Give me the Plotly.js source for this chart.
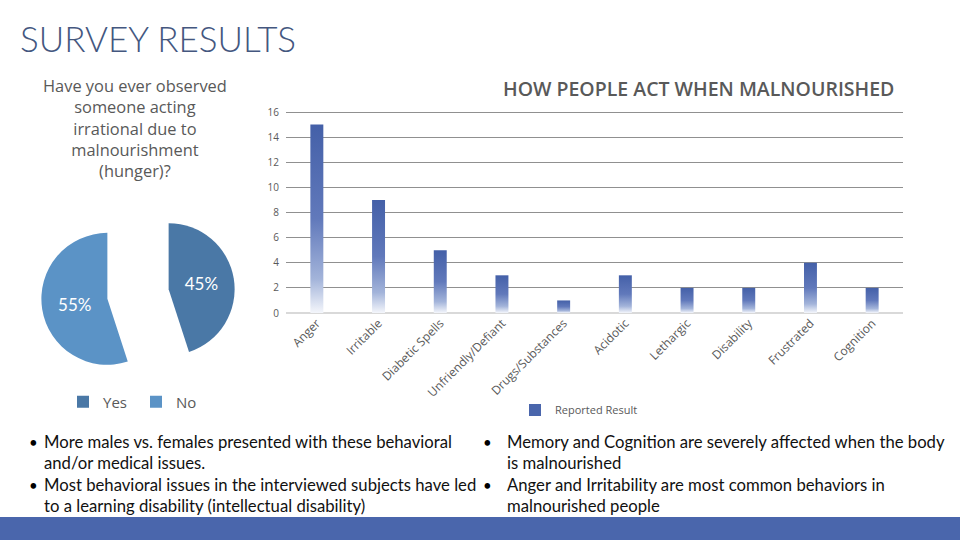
<!DOCTYPE html>
<html><head><meta charset="utf-8">
<script src="https://cdn.plot.ly/plotly-3.0.1.min.js"></script>
<style>html,body{margin:0;padding:0;background:#fff}#chart{width:960px;height:540px}</style>
</head><body><div id="chart"></div>
<script>
const slideTitle = 'SURVEY RESULTS';
const pieTitle = ['Have you ever observed','someone acting','irrational due to','malnourishment','(hunger)?'];
const pieLabels = ['Yes','No'];
const pieValues = [45,55];
const barTitle = 'HOW PEOPLE ACT WHEN MALNOURISHED';
const barCategories = ['Anger','Irritable','Diabetic Spells','Unfriendly/Defiant','Drugs/Substances','Acidotic','Lethargic','Disability','Frustrated','Cognition'];
const barValues = [15,9,5,3,1,3,2,2,4,2];
const barSeriesName = 'Reported Result';
const yTicks = [0,2,4,6,8,10,12,14,16];
const notesLeft = [['More males vs. females presented with these behavioral','and/or medical issues.'],['Most behavioral issues in the interviewed subjects have led','to a learning disability (intellectual disability)']];
const notesRight = [['Memory and Cognition are severely affected when the body','is malnourished'],['Anger and Irritability are most common behaviors in','malnourished people']];

const W = 960, H = 540;
const px = x => x / W, py = y => 1 - y / H;
const grey = '#595959';

const pieTrace = {
  type: 'pie', labels: pieLabels, values: pieValues, sort: false,
  direction: 'clockwise', rotation: 0, pull: [0.47, 0.47],
  marker: {colors: ['#4a78a6', '#5b93c6'], line: {width: 0}},
  texttemplate: '%{percent}', textposition: 'inside', insidetextorientation: 'horizontal',
  textfont: {family: 'Lato', size: 17, color: '#ffffff'},
  domain: {x: [px(41), px(235)], y: [py(391), py(197)]},
  hoverinfo: 'none', legend: 'legend'
};
const barTrace = {
  type: 'bar', x: barCategories, y: barValues, name: barSeriesName,
  marker: {color: '#4a66ac'}, width: 0.21, showlegend: true, legend: 'legend2',
  hoverinfo: 'none'
};

const annotations = [];
annotations.push({text: slideTitle, xref: 'paper', yref: 'paper', x: px(18), y: py(38), xanchor: 'left', yanchor: 'middle', showarrow: false,
  font: {family: 'Lato', size: 35, weight: 300, color: '#44577f'}});
annotations.push({text: pieTitle.join('<br>'), xref: 'paper', yref: 'paper', x: px(135), y: py(128), xanchor: 'center', yanchor: 'middle', showarrow: false,
  font: {family: 'Open Sans', size: 16.4, color: grey}, align: 'center'});
annotations.push({text: barTitle, xref: 'paper', yref: 'paper', x: px(698), y: py(88), xanchor: 'center', yanchor: 'middle', showarrow: false,
  font: {family: 'Open Sans', size: 19.5, weight: 600, color: grey}});

function addNotes(notes, bulletX, textX, startYs) {
  notes.forEach((lines, i) => {
    annotations.push({text: '•', xref: 'paper', yref: 'paper', x: px(bulletX), y: py(startYs[i]), xanchor: 'center', yanchor: 'middle', showarrow: false,
      font: {family: 'Lato', size: 15, color: '#000'}});
    lines.forEach((ln, j) => {
      annotations.push({text: ln, xref: 'paper', yref: 'paper', x: px(textX), y: py(startYs[i] + j * 21.3), xanchor: 'left', yanchor: 'middle', showarrow: false,
        font: {family: 'Lato', size: 16.7, color: '#111'}});
    });
  });
}
addNotes(notesLeft, 33, 42, [442, 485]);
addNotes(notesRight, 487, 505, [442, 485]);

const layout = {
  width: W, height: H, margin: {l: 0, r: 0, t: 0, b: 0},
  paper_bgcolor: '#ffffff', plot_bgcolor: 'rgba(0,0,0,0)',
  showlegend: true,
  xaxis: {domain: [px(286), px(903)], type: 'category', tickangle: -45, showgrid: false, zeroline: false, showline: false,
    ticks: '', tickfont: {family: 'Open Sans', size: 12, color: grey}, fixedrange: true},
  yaxis: {domain: [py(313), py(109.5)], range: [0, 16.2], tickvals: yTicks, showgrid: true, gridcolor: '#909090', gridwidth: 1,
    zeroline: true, zerolinecolor: '#d9d9d9', zerolinewidth: 1.2, ticks: '', ticklabelstandoff: 6,
    tickfont: {family: 'Open Sans', size: 10, color: grey}, fixedrange: true},
  legend: {orientation: 'h', x: px(63), y: py(402), xanchor: 'left', yanchor: 'middle', entrywidth: 28, entrywidthmode: 'pixels',
    font: {family: 'Open Sans', size: 15, color: grey}, bgcolor: 'rgba(0,0,0,0)'},
  legend2: {orientation: 'h', x: px(515), y: py(410), xanchor: 'left', yanchor: 'middle',
    font: {family: 'Open Sans', size: 11, color: grey}, bgcolor: 'rgba(0,0,0,0)'},
  shapes: [{type: 'rect', xref: 'paper', yref: 'paper', x0: 0, x1: 1, y0: 0, y1: py(517), fillcolor: '#4a66ac', line: {width: 0}, layer: 'below'}],
  annotations: annotations
};

Plotly.newPlot('chart', [pieTrace, barTrace], layout, {displayModeBar: false, staticPlot: true}).then(gd => {
  const svg = gd.querySelector('.main-svg');
  const ns = 'http://www.w3.org/2000/svg';
  let defs = svg.querySelector('defs');
  if (!defs) { defs = document.createElementNS(ns, 'defs'); svg.insertBefore(defs, svg.firstChild); }
  const g = document.createElementNS(ns, 'linearGradient');
  g.setAttribute('id', 'barGrad'); g.setAttribute('x1', '0'); g.setAttribute('y1', '0'); g.setAttribute('x2', '0'); g.setAttribute('y2', '1');
  [['0', '#4460a8'], ['0.5', '#6179bb'], ['0.82', '#a3b4da'], ['1', '#f4f6fb']].forEach(([o, c]) => {
    const s = document.createElementNS(ns, 'stop'); s.setAttribute('offset', o); s.setAttribute('stop-color', c); g.appendChild(s);
  });
  defs.appendChild(g);
  gd.querySelectorAll('.barlayer .point path').forEach(p => { p.style.fill = 'url(#barGrad)'; });
});
</script></body></html>
